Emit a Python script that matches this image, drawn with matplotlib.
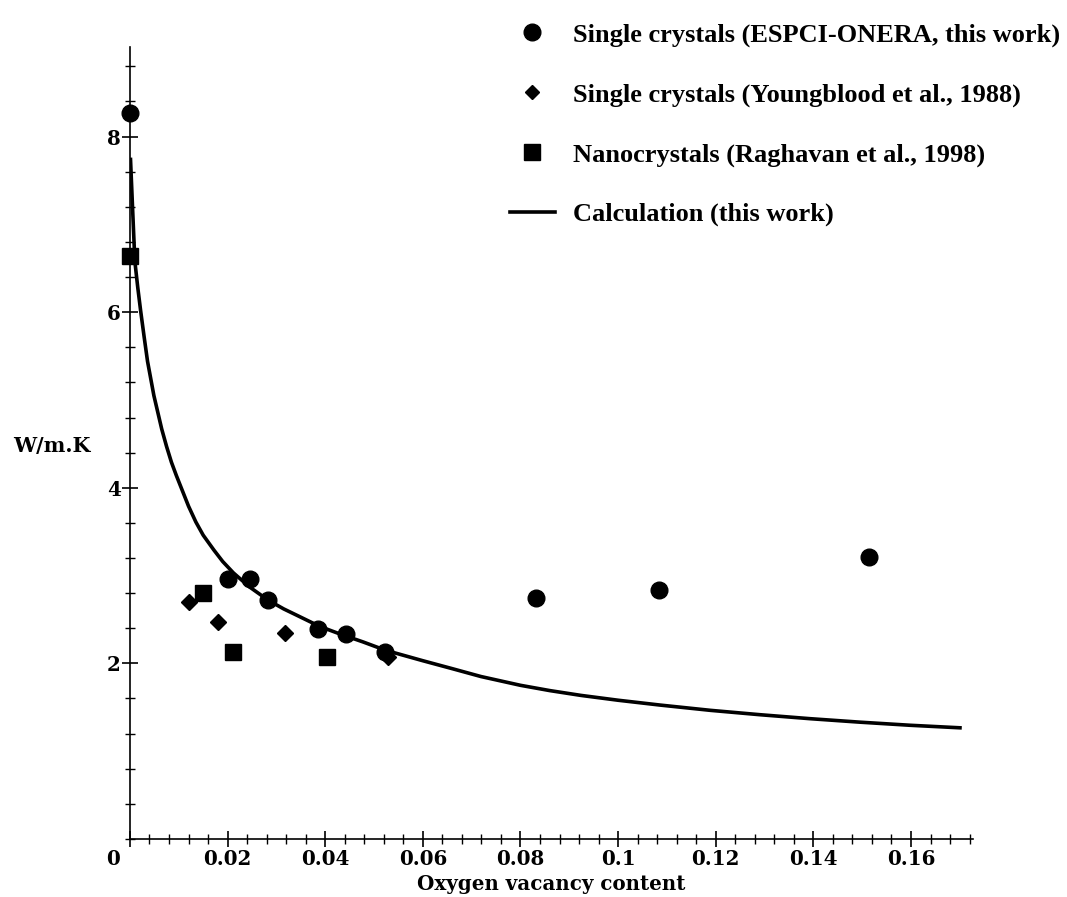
import matplotlib
matplotlib.use("Agg")
import matplotlib.pyplot as plt
from matplotlib.lines import Line2D
from matplotlib.ticker import MultipleLocator, FixedLocator, FixedFormatter
import matplotlib.transforms as mtransforms

# Thermal conductivity (W/m.K) versus oxygen vacancy content
espci_x = [0.0, 0.0201, 0.0246, 0.0283, 0.0385, 0.0443, 0.0523, 0.0832, 0.1084, 0.1514]
espci_y = [8.27, 2.96, 2.96, 2.72, 2.39, 2.33, 2.13, 2.75, 2.84, 3.21]

youngblood_x = [0.0121, 0.0181, 0.0318, 0.0528]
youngblood_y = [2.70, 2.47, 2.35, 2.07]

raghavan_x = [0.0, 0.0150, 0.0212, 0.0403]
raghavan_y = [6.64, 2.80, 2.13, 2.07]

calc_x = [0.0001, 0.0005, 0.0010, 0.0016, 0.0022, 0.0029, 0.0036, 0.0049, 0.0065,
          0.0075, 0.0085, 0.0095, 0.0105, 0.0120, 0.0135, 0.0150, 0.0172, 0.0190,
          0.0212, 0.0245, 0.0283, 0.0315, 0.0341, 0.0389, 0.0430, 0.0477, 0.0523,
          0.0555, 0.0600, 0.0660, 0.0719, 0.0800, 0.0860, 0.0924, 0.1000, 0.1086,
          0.1189, 0.1291, 0.1393, 0.1496, 0.1598, 0.1704]
calc_y = [7.76, 7.23, 6.58, 6.28, 6.01, 5.72, 5.44, 5.05, 4.67,
          4.47, 4.29, 4.14, 4.00, 3.79, 3.61, 3.46, 3.29, 3.16,
          3.03, 2.87, 2.72, 2.62, 2.55, 2.42, 2.335, 2.245, 2.15,
          2.10, 2.03, 1.94, 1.85, 1.75, 1.69, 1.635, 1.58, 1.525,
          1.465, 1.415, 1.37, 1.33, 1.295, 1.265]

x_major = [0, 0.02, 0.04, 0.06, 0.08, 0.10, 0.12, 0.14, 0.16]
x_labels = ["0", "0.02", "0.04", "0.06", "0.08", "0.1", "0.12", "0.14", "0.16"]
y_major = [2, 4, 6, 8]
y_labels = ["2", "4", "6", "8"]

legend_labels = [
    "Single crystals (ESPCI-ONERA, this work)",
    "Single crystals (Youngblood et al., 1988)",
    "Nanocrystals (Raghavan et al., 1998)",
    "Calculation (this work)",
]

tick_font = {"family": "DejaVu Serif", "weight": "bold", "size": 14.3}
legend_font = {"family": "Liberation Serif", "weight": "bold", "size": 19}

fig = plt.figure(figsize=(10.67, 8.97), dpi=100)
ax = fig.add_axes([0.1218, 0.0647, 0.7901, 0.8829])

ax.plot(calc_x, calc_y, color="black", lw=2.6, solid_capstyle="butt",
        solid_joinstyle="round", zorder=2)
ax.plot(espci_x, espci_y, "o", color="black", ms=12, zorder=3, clip_on=False)
ax.plot(youngblood_x, youngblood_y, "D", color="black", ms=8, zorder=3, clip_on=False)
ax.plot(raghavan_x, raghavan_y, "s", color="black", ms=11.5, zorder=3, clip_on=False)

ax.set_xlim(0, 0.1727)
ax.set_ylim(0, 9.02)

for side in ("top", "right"):
    ax.spines[side].set_visible(False)
for side in ("left", "bottom"):
    ax.spines[side].set_linewidth(1.2)

ax.xaxis.set_major_locator(FixedLocator(x_major))
ax.xaxis.set_major_formatter(FixedFormatter(x_labels))
ax.xaxis.set_minor_locator(MultipleLocator(0.004))
ax.yaxis.set_major_locator(FixedLocator(y_major))
ax.yaxis.set_major_formatter(FixedFormatter(y_labels))
ax.yaxis.set_minor_locator(MultipleLocator(0.4))

ax.tick_params(which="major", direction="inout", length=11, width=1.2, pad=2)
ax.tick_params(axis="y", which="major", pad=1)
ax.tick_params(which="minor", direction="inout", length=7, width=1.0)
for lab in ax.get_xticklabels() + ax.get_yticklabels():
    lab.set_fontfamily(tick_font["family"])
    lab.set_fontweight(tick_font["weight"])
    lab.set_fontsize(tick_font["size"])

# the origin label sits a little to the left of the vertical axis
zero_lab = ax.get_xticklabels()[0]
zero_lab.set_transform(zero_lab.get_transform() +
                       mtransforms.ScaledTranslation(-17 / 100, 0, fig.dpi_scale_trans))

ax.set_xlabel("Oxygen vacancy content", fontfamily="DejaVu Serif",
              fontweight="bold", fontsize=14.3, labelpad=3.5)
fig.text(0.012, 0.503, "W/m.K", fontfamily="DejaVu Serif", fontweight="bold",
         fontsize=14.8, va="center", ha="left")

handles = [
    Line2D([], [], ls="none", marker="o", color="black", ms=12),
    Line2D([], [], ls="none", marker="D", color="black", ms=7.5),
    Line2D([], [], ls="none", marker="s", color="black", ms=11),
    Line2D([], [], color="black", lw=2.6),
]
fig.legend(handles, legend_labels, loc="upper left", bbox_to_anchor=(0.468, 0.986),
           frameon=False, prop=legend_font, handlelength=1.7, handletextpad=0.68,
           labelspacing=1.36, borderaxespad=0)

fig.savefig("out.png", dpi=100)
